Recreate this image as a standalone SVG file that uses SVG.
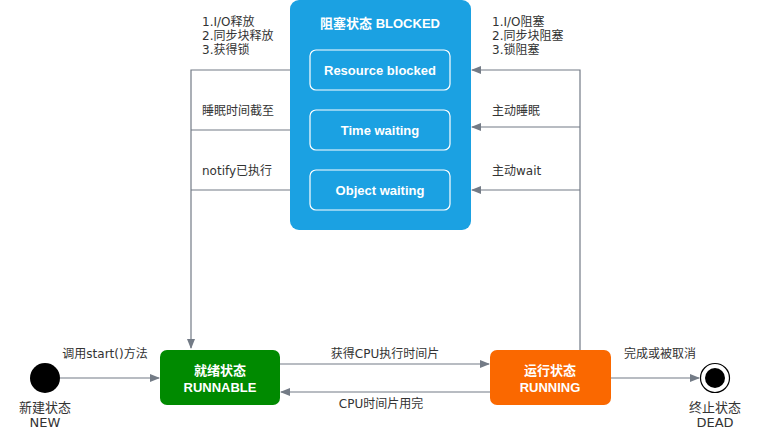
<svg xmlns="http://www.w3.org/2000/svg" width="761" height="434" viewBox="0 0 761 434">
<style>
text{font-family:"DejaVu Sans","Noto Sans CJK SC",sans-serif;}
.lbl{font-size:12px;fill:#333333;}
.st{font-size:13px;fill:#333333;text-anchor:middle;}
.w{font-family:"Liberation Sans","Noto Sans CJK SC",sans-serif;font-size:13px;font-weight:bold;fill:#ffffff;text-anchor:middle;}
.ln{fill:none;stroke:#737b86;stroke-width:1.2;}
</style>
<defs>
<marker id="ah" viewBox="0 0 10 10" refX="9" refY="5" markerWidth="10" markerHeight="10" markerUnits="userSpaceOnUse" orient="auto">
<path d="M0,1 L10,5 L0,9 Z" fill="#737b86"/>
</marker>
</defs>
<rect width="761" height="434" fill="#ffffff"/>
<g id="connectors">
<path class="ln" d="M290,70 H191 V348" marker-end="url(#ah)"/>
<path class="ln" d="M290,130 H191"/>
<path class="ln" d="M290,190 H191"/>
<path class="ln" d="M580,350 V70 H472" marker-end="url(#ah)"/>
<path class="ln" d="M580,127 H472" marker-end="url(#ah)"/>
<path class="ln" d="M580,190 H472" marker-end="url(#ah)"/>
<path class="ln" d="M60,378 H159" marker-end="url(#ah)"/>
<path class="ln" d="M280,364 H489" marker-end="url(#ah)"/>
<path class="ln" d="M490,392 H281" marker-end="url(#ah)"/>
<path class="ln" d="M611,378 H699" marker-end="url(#ah)"/>
<text class="lbl" x="202" y="26">1.I/O释放</text>
<text class="lbl" x="202" y="40">2.同步块释放</text>
<text class="lbl" x="202" y="54">3.获得锁</text>
<text class="lbl" x="202" y="115">睡眠时间截至</text>
<text class="lbl" x="202" y="175">notify已执行</text>
<text class="lbl" x="492" y="26">1.I/O阻塞</text>
<text class="lbl" x="492" y="40">2.同步块阻塞</text>
<text class="lbl" x="492" y="54">3.锁阻塞</text>
<text class="lbl" x="492" y="115">主动睡眠</text>
<text class="lbl" x="492" y="175">主动wait</text>
<text class="lbl" x="105" y="358" text-anchor="middle">调用start()方法</text>
<text class="lbl" x="385" y="358" text-anchor="middle">获得CPU执行时间片</text>
<text class="lbl" x="381" y="408" text-anchor="middle">CPU时间片用完</text>
<text class="lbl" x="660" y="358" text-anchor="middle">完成或被取消</text>
</g>
<g id="blocked">
<rect x="290" y="0" width="181" height="230" rx="9" fill="#1ba1e2"/>
<text class="w" x="380" y="28">阻塞状态 BLOCKED</text>
</g>
<g id="resource">
<rect x="310" y="50" width="140" height="40" rx="6" fill="none" stroke="#ffffff" stroke-width="1.2"/>
<text class="w" x="380" y="75">Resource blocked</text>
</g>
<g id="time">
<rect x="310" y="110" width="140" height="40" rx="6" fill="none" stroke="#ffffff" stroke-width="1.2"/>
<text class="w" x="380" y="135">Time waiting</text>
</g>
<g id="object">
<rect x="310" y="170" width="140" height="40" rx="6" fill="none" stroke="#ffffff" stroke-width="1.2"/>
<text class="w" x="380" y="195">Object waiting</text>
</g>
<g id="new">
<circle cx="45" cy="378" r="15" fill="#000000"/>
<text class="st" x="45" y="412">新建状态</text>
<text class="st" x="45" y="427">NEW</text>
</g>
<g id="runnable">
<rect x="160" y="350" width="120" height="55" rx="7" fill="#008a00"/>
<text class="w" x="220" y="375">就绪状态</text>
<text class="w" x="220" y="392">RUNNABLE</text>
</g>
<g id="running">
<rect x="490" y="350" width="121" height="55" rx="7" fill="#fa6800"/>
<text class="w" x="550" y="375">运行状态</text>
<text class="w" x="550" y="392">RUNNING</text>
</g>
<g id="dead">
<circle cx="715" cy="378" r="14.5" fill="#ffffff" stroke="#000000" stroke-width="1.2"/>
<circle cx="715" cy="378" r="10" fill="#000000"/>
<text class="st" x="715" y="412">终止状态</text>
<text class="st" x="715" y="427">DEAD</text>
</g>
</svg>
